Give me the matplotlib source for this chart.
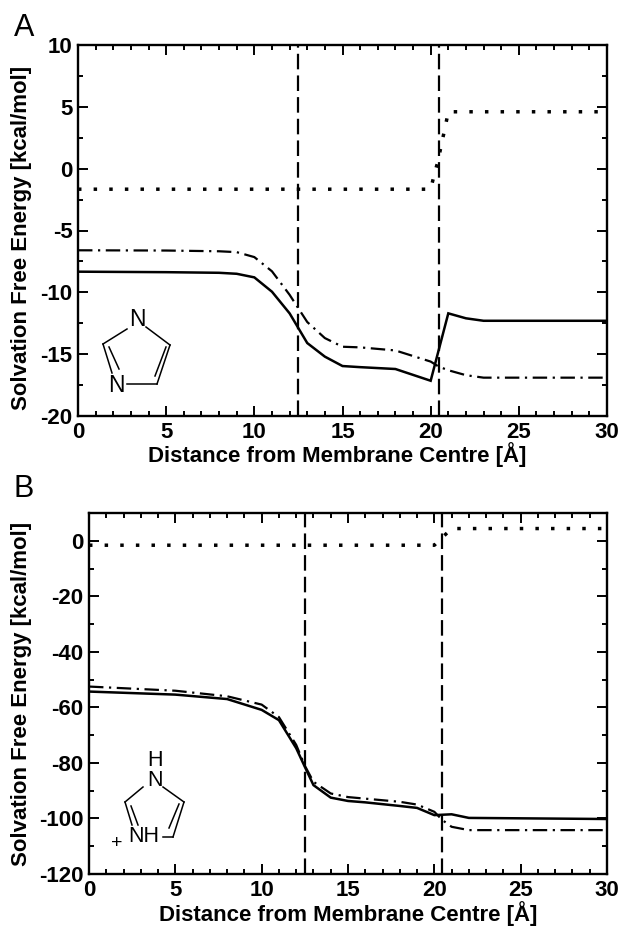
import matplotlib
matplotlib.use("Agg")
import matplotlib.pyplot as plt
from matplotlib.lines import Line2D
from matplotlib.ticker import MultipleLocator

plt.rcParams['font.family'] = ['Liberation Sans', 'DejaVu Sans']
plt.rcParams['axes.unicode_minus'] = False

W, H = 621, 926
# Panel A
a_solid_x = [0, 5, 8, 9, 10, 11, 12, 12.5, 13, 14, 15, 16, 18, 20, 21, 22, 23, 30]
a_solid_y = [-8.33, -8.37, -8.42, -8.5, -8.79, -9.95, -11.7, -12.9, -14.1, -15.2, -15.96, -16.05, -16.2, -17.15, -11.7, -12.1, -12.3, -12.3]
a_dd_x = [0, 5, 8, 9, 10, 11, 12, 13, 14, 15, 16, 18, 20, 20.45, 21, 22, 23, 30]
a_dd_y = [-6.6, -6.62, -6.68, -6.75, -7.15, -8.3, -10.2, -12.4, -13.7, -14.4, -14.45, -14.7, -15.6, -16.0, -16.3, -16.7, -16.9, -16.9]
a_dot_x = [0, 20, 20.2, 20.43, 20.6, 20.8, 21, 30]
a_dot_y = [-1.66, -1.66, -0.5, 0.7, 1.9, 3.2, 4.6, 4.6]
# Panel B
b_solid_x = [0, 5, 8, 10, 11, 12, 12.5, 13, 14, 15, 16, 18, 19, 20, 21, 22, 30]
b_solid_y = [-54.3, -55.4, -57, -60.9, -64.6, -74.7, -81.4, -88, -92.5, -93.7, -94.2, -95.5, -96.2, -98.8, -98.5, -99.8, -100.2]
b_dd_x = [0, 5, 8, 10, 11, 12, 12.5, 13, 14, 15, 18, 19, 20, 20.45, 21, 22, 30]
b_dd_y = [-52.5, -54, -56, -59, -63.5, -73.5, -81, -86.8, -91, -92.3, -94, -95, -97.6, -100.5, -103, -104.2, -104.2]
b_dot_x = [0, 20, 20.6, 21, 30]
b_dot_y = [-1.6, -1.6, 2, 4.4, 4.4]
# Boundaries
boundaries = [12.5, 20.45]
xlabel = "Distance from Membrane Centre [Å]"
ylabel = "Solvation Free Energy [kcal/mol]"

FS = 16
fig = plt.figure(figsize=(W / 100, H / 100), dpi=100)

def box(l, t, r, b):
    return [l / W, 1 - b / H, (r - l) / W, (b - t) / H]

def panel(rect, ylim, maj, mnr, sx, sy, dx, dy, dox, doy):
    ax = fig.add_axes(box(*rect))
    ax.plot(sx, sy, color='k', lw=1.8, solid_joinstyle='miter')
    ax.plot(dx, dy, color='k', lw=1.6, dashes=(6.5, 2.5, 1, 2.5))
    ax.plot(dox, doy, color='k', lw=2.5, dashes=(1, 3.5))
    for b in boundaries:
        ax.axvline(b, color='k', lw=1.6, dashes=(7, 2.75), dash_joinstyle='miter')
    ax.set_xlim(0, 30)
    ax.set_ylim(*ylim)
    ax.xaxis.set_major_locator(MultipleLocator(5))
    ax.xaxis.set_minor_locator(MultipleLocator(1))
    ax.yaxis.set_major_locator(MultipleLocator(maj))
    ax.yaxis.set_minor_locator(MultipleLocator(mnr))
    ax.tick_params(which='both', direction='in', top=True, right=True, width=1.4)
    ax.tick_params(which='major', length=7)
    ax.tick_params(which='minor', length=3.5)
    ax.tick_params(axis='x', which='major', pad=4, labelsize=FS)
    ax.tick_params(axis='y', which='major', pad=4, labelsize=FS)
    for lab in ax.get_xticklabels() + ax.get_yticklabels():
        lab.set_fontweight('bold')
    for s in ax.spines.values():
        s.set_linewidth(1.7)
    return ax

panel((78, 45, 607, 416), (-20, 10), 5, 2.5, a_solid_x, a_solid_y, a_dd_x, a_dd_y, a_dot_x, a_dot_y)
panel((89, 513, 607, 874), (-120, 10), 20, 10, b_solid_x, b_solid_y, b_dd_x, b_dd_y, b_dot_x, b_dot_y)

def txt(x, y, s, **kw):
    kw.setdefault('ha', 'center')
    kw.setdefault('va', 'center')
    fig.text(x / W, 1 - y / H, s, **kw)

def seg(x0, y0, x1, y1, lw=1.1):
    fig.add_artist(Line2D([x0 / W, x1 / W], [1 - y0 / H, 1 - y1 / H], color='k', lw=lw,
                          transform=fig.transFigure))

txt(337, 455, xlabel, fontsize=FS, fontweight='bold')
txt(348, 914, xlabel, fontsize=FS, fontweight='bold')
txt(22, 238, ylabel, fontsize=FS, fontweight='bold', rotation=90)
txt(22, 694, ylabel, fontsize=FS, fontweight='bold', rotation=90)
txt(24, 28, "A", fontsize=22)
txt(24, 489, "B", fontsize=22)

# Imidazole sketch, panel A
for p in [(146, 327, 170, 345), (170, 345, 157, 384), (166, 347, 155, 376), (157, 384, 127, 384),
          (103, 344, 127, 329), (103, 344, 112, 373), (109, 347, 119, 369)]:
    seg(*p)
txt(137, 320, "N", fontsize=16.5)
txt(116, 385, "N", fontsize=16.5)

# Imidazolium sketch, panel B
for p in [(163, 787, 184, 802), (184, 802, 173, 837), (179, 804, 169, 828), (173, 837, 163, 837),
          (125, 802, 143, 787), (125, 802, 132, 825), (131, 806, 138, 825)]:
    seg(*p)
txt(155, 760, "H", fontsize=15.5)
txt(155, 781, "N", fontsize=15.5)
txt(144, 837, "NH", fontsize=15.5)
txt(117, 844, "+", fontsize=14)

fig.savefig("out.png", dpi=100)
